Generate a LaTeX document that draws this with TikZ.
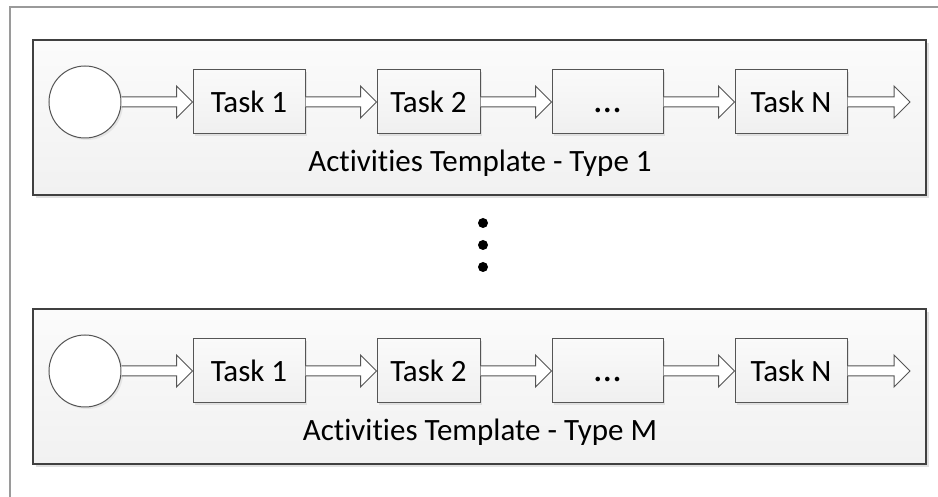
\documentclass[tikz,border=0pt]{standalone}
\usepackage{fontspec}
\setmainfont{Carlito}[Ligatures={NoCommon}]
\usetikzlibrary{positioning,calc,shadows}

\definecolor{edgegray}{HTML}{555555}
\definecolor{boxgray}{HTML}{404040}
\definecolor{framegray}{HTML}{9A9A9A}

% hollow block arrow between two points
\newcommand{\blockarrow}[2]{%
  \draw[flowarrow] ($(#1)+(0,-5)$) -- ($(#2)+(-16,-5)$) -- ($(#2)+(-16,-16)$)
    -- (#2) -- ($(#2)+(-16,16)$) -- ($(#2)+(-16,5)$) -- ($(#1)+(0,5)$);}
\newcommand{\moretasks}{{\vphantom{Task}\fontsize{19}{20}\selectfont ...}}

\begin{document}
\begin{tikzpicture}[x=0.5pt,y=-0.5pt,
    font=\fontsize{15.5}{18}\selectfont,
    template/.style={draw=boxgray, line width=0.6pt, top color=gray!3, bottom color=gray!11,
      minimum width=446.5pt, minimum height=77.5pt, inner sep=0pt,
      drop shadow={shadow xshift=1.5pt, shadow yshift=-1.5pt, fill=black!12, opacity=1}},
    task/.style={draw=edgegray, line width=0.5pt, top color=gray!4, bottom color=gray!12,
      minimum height=32pt, inner sep=0pt,
      drop shadow={shadow xshift=1pt, shadow yshift=-1pt, fill=black!12, opacity=1}},
    start/.style={draw=edgegray, line width=0.5pt, circle, fill=white, minimum size=36pt, inner sep=0pt,
      drop shadow={shadow xshift=1pt, shadow yshift=-1pt, fill=black!10, opacity=1}},
    flowarrow/.style={draw=edgegray, line width=0.5pt, fill=white, line join=miter}]
        \useasboundingbox (0,0) rectangle (938,497);
        \draw[framegray, line width=0.9pt] (10,497) -- (10,7) -- (938,7);

        \begin{scope}[shift={(0,0)}]
            \node[template] (B1) at (479.5,117.5) {};
            \node[start] (S1) at (85,102) {};
            \node[task, minimum width=56pt] (T11) at (249,102) {Task 1};
            \node[task, minimum width=51.5pt] (T12) at (428.5,102) {Task 2};
            \node[task, minimum width=55.5pt] (T13) at (607.5,102) {\moretasks};
            \node[task, minimum width=56pt] (T1N) at (791,102) {Task N};
            \coordinate (E1) at (910,102);
            \node (L1) at (480,163) {Activities Template - Type 1};
        \end{scope}

        \fill (483,223) circle (5);
        \fill (483,245) circle (5);
        \fill (483,267) circle (5);

        \begin{scope}[shift={(0,269)}]
            \node[template] (B2) at (479.5,117.5) {};
            \node[start] (S2) at (85,102) {};
            \node[task, minimum width=56pt] (T21) at (249,102) {Task 1};
            \node[task, minimum width=51.5pt] (T22) at (428.5,102) {Task 2};
            \node[task, minimum width=55.5pt] (T23) at (607.5,102) {\moretasks};
            \node[task, minimum width=56pt] (T2N) at (791,102) {Task N};
            \coordinate (E2) at (910,102);
            \node (L2) at (480,163) {Activities Template - Type M};
        \end{scope}

        \blockarrow{S1.east}{T11.west}
        \blockarrow{T11.east}{T12.west}
        \blockarrow{T12.east}{T13.west}
        \blockarrow{T13.east}{T1N.west}
        \blockarrow{T1N.east}{E1}

        \blockarrow{S2.east}{T21.west}
        \blockarrow{T21.east}{T22.west}
        \blockarrow{T22.east}{T23.west}
        \blockarrow{T23.east}{T2N.west}
        \blockarrow{T2N.east}{E2}
\end{tikzpicture}
\end{document}
